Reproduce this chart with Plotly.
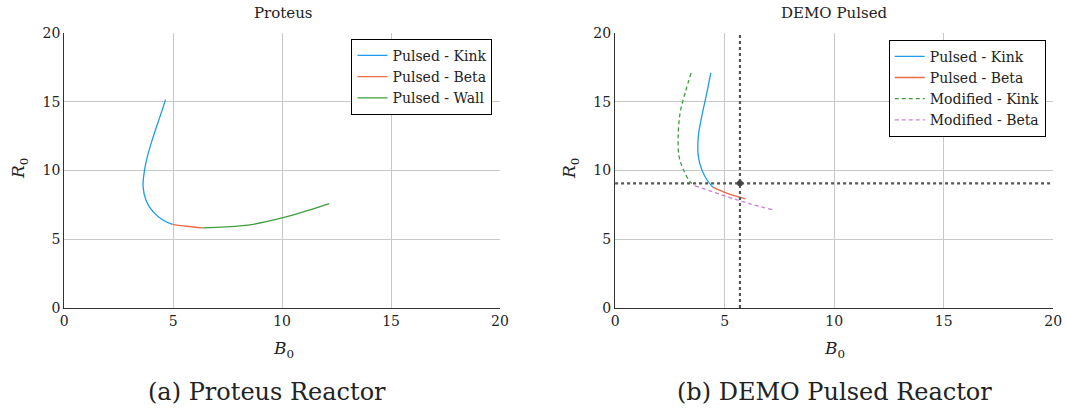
import plotly.graph_objects as go
from plotly.subplots import make_subplots

# ---- Proteus data ----
proteus_kink_B = [4.65, 4.39, 4.08, 3.81, 3.66, 3.62, 3.75, 4.08, 4.54, 4.97]
proteus_kink_R = [15.16, 13.9, 12.44, 10.99, 9.78, 8.81, 7.84, 6.99, 6.39, 6.09]
proteus_beta_B = [4.97, 5.61, 6.35]
proteus_beta_R = [6.09, 5.95, 5.83]
proteus_wall_B = [6.35, 7.45, 8.67, 10.0, 11.12, 12.16]
proteus_wall_R = [5.83, 5.90, 6.09, 6.55, 7.06, 7.60]

# ---- DEMO pulsed data ----
demo_kink_B = [4.37, 4.19, 3.96, 3.80, 3.80, 3.96, 4.19, 4.46]
demo_kink_R = [17.1, 15.66, 13.95, 12.49, 11.03, 10.06, 9.33, 8.80]
demo_beta_B = [4.46, 5.10, 5.95]
demo_beta_R = [8.80, 8.36, 7.94]
mod_kink_B = [3.47, 3.20, 2.97, 2.88, 2.92, 3.12, 3.42, 3.65]
mod_kink_R = [17.1, 15.66, 14.2, 12.49, 11.03, 10.06, 9.2, 8.89]
mod_beta_B = [3.65, 5.10, 6.16, 7.23]
mod_beta_R = [8.89, 8.11, 7.58, 7.14]
design_B = 5.7
design_R = 9.07

axis_range = [0, 20]
tick_vals = [0, 5, 10, 15, 20]
tick_text = ["0", "5", "10", "15", "20"]

BLUE = "#1a9cf0"
RED = "#ec6a44"
GREEN = "#3e9e3e"
MAG = "#c97fdc"
FONT = "DejaVu Serif"

fig = make_subplots(rows=1, cols=2)

fig.add_trace(go.Scatter(x=proteus_kink_B, y=proteus_kink_R, mode="lines", name="Pulsed - Kink",
                         line=dict(color=BLUE, width=1.3, shape="spline"), legend="legend"), 1, 1)
fig.add_trace(go.Scatter(x=proteus_beta_B, y=proteus_beta_R, mode="lines", name="Pulsed - Beta",
                         line=dict(color=RED, width=1.3, shape="spline"), legend="legend"), 1, 1)
fig.add_trace(go.Scatter(x=proteus_wall_B, y=proteus_wall_R, mode="lines", name="Pulsed - Wall",
                         line=dict(color=GREEN, width=1.3, shape="spline"), legend="legend"), 1, 1)

fig.add_trace(go.Scatter(x=demo_kink_B, y=demo_kink_R, mode="lines", name="Pulsed - Kink",
                         line=dict(color=BLUE, width=1.3, shape="spline"), legend="legend2"), 1, 2)
fig.add_trace(go.Scatter(x=demo_beta_B, y=demo_beta_R, mode="lines", name="Pulsed - Beta",
                         line=dict(color=RED, width=1.3, shape="spline"), legend="legend2"), 1, 2)
fig.add_trace(go.Scatter(x=mod_kink_B, y=mod_kink_R, mode="lines", name="Modified - Kink",
                         line=dict(color=GREEN, width=1.3, shape="spline", dash="4px,3px"), legend="legend2"), 1, 2)
fig.add_trace(go.Scatter(x=mod_beta_B, y=mod_beta_R, mode="lines", name="Modified - Beta",
                         line=dict(color=MAG, width=1.3, shape="spline", dash="4px,3px"), legend="legend2"), 1, 2)
# design point cross-hair
fig.add_trace(go.Scatter(x=[design_B, design_B], y=axis_range, mode="lines", showlegend=False,
                         line=dict(color="#555555", width=2.2, dash="dot")), 1, 2)
fig.add_trace(go.Scatter(x=axis_range, y=[design_R, design_R], mode="lines", showlegend=False,
                         line=dict(color="#555555", width=2.2, dash="dot")), 1, 2)
fig.add_trace(go.Scatter(x=[design_B], y=[design_R], mode="markers", showlegend=False,
                         marker=dict(color="#444444", size=6)), 1, 2)

axstyle = dict(range=axis_range, tickvals=tick_vals, ticktext=tick_text, showgrid=True,
               gridcolor="#c8c8c8", gridwidth=1, zeroline=False, showline=True, linecolor="#333333",
               linewidth=1.3, ticks="", automargin=False,
               tickfont=dict(family=FONT, size=14, color="#222"))
fig.update_xaxes(**axstyle)
fig.update_yaxes(**axstyle)
fig.update_layout(
    xaxis=dict(domain=[0.0603, 0.469]),
    xaxis2=dict(domain=[0.577, 0.988]),
    yaxis=dict(domain=[0.263, 0.921]),
    yaxis2=dict(domain=[0.263, 0.921]),
)

legend_common = dict(bgcolor="white", bordercolor="black", borderwidth=1,
                     font=dict(family=FONT, size=14, color="#222"),
                     xanchor="right", yanchor="top", tracegroupgap=0, itemwidth=30)
fig.update_layout(
    legend=dict(x=0.462, y=0.907, **legend_common),
    legend2=dict(x=0.981, y=0.905, **legend_common),
)

ann = []
def txt(x, y, s, size, **kw):
    ann.append(dict(x=x / 1066, y=1 - y / 418, xref="paper", yref="paper", text=s, showarrow=False,
                    xanchor="center", yanchor="middle",
                    font=dict(family=FONT, size=size, color="#222"), **kw))

txt(283, 13, "Proteus", 15)
txt(834, 13, "DEMO Pulsed", 15)
txt(283, 349, "<i>B</i><sub>0</sub>", 17)
txt(834, 349, "<i>B</i><sub>0</sub>", 17)
txt(20, 169, "<i>R</i><sub>0</sub>", 17, textangle=-90)
txt(571, 169, "<i>R</i><sub>0</sub>", 17, textangle=-90)
txt(267, 392, "(a) Proteus Reactor", 24)
txt(834, 392, "(b) DEMO Pulsed Reactor", 24)

fig.update_layout(annotations=ann, width=1066, height=418,
                  margin=dict(l=0, r=0, t=0, b=0, autoexpand=False),
                  plot_bgcolor="white", paper_bgcolor="white")

fig.write_html("out.html", config={"displayModeBar": False},
               post_script="document.body.style.margin='0';")
